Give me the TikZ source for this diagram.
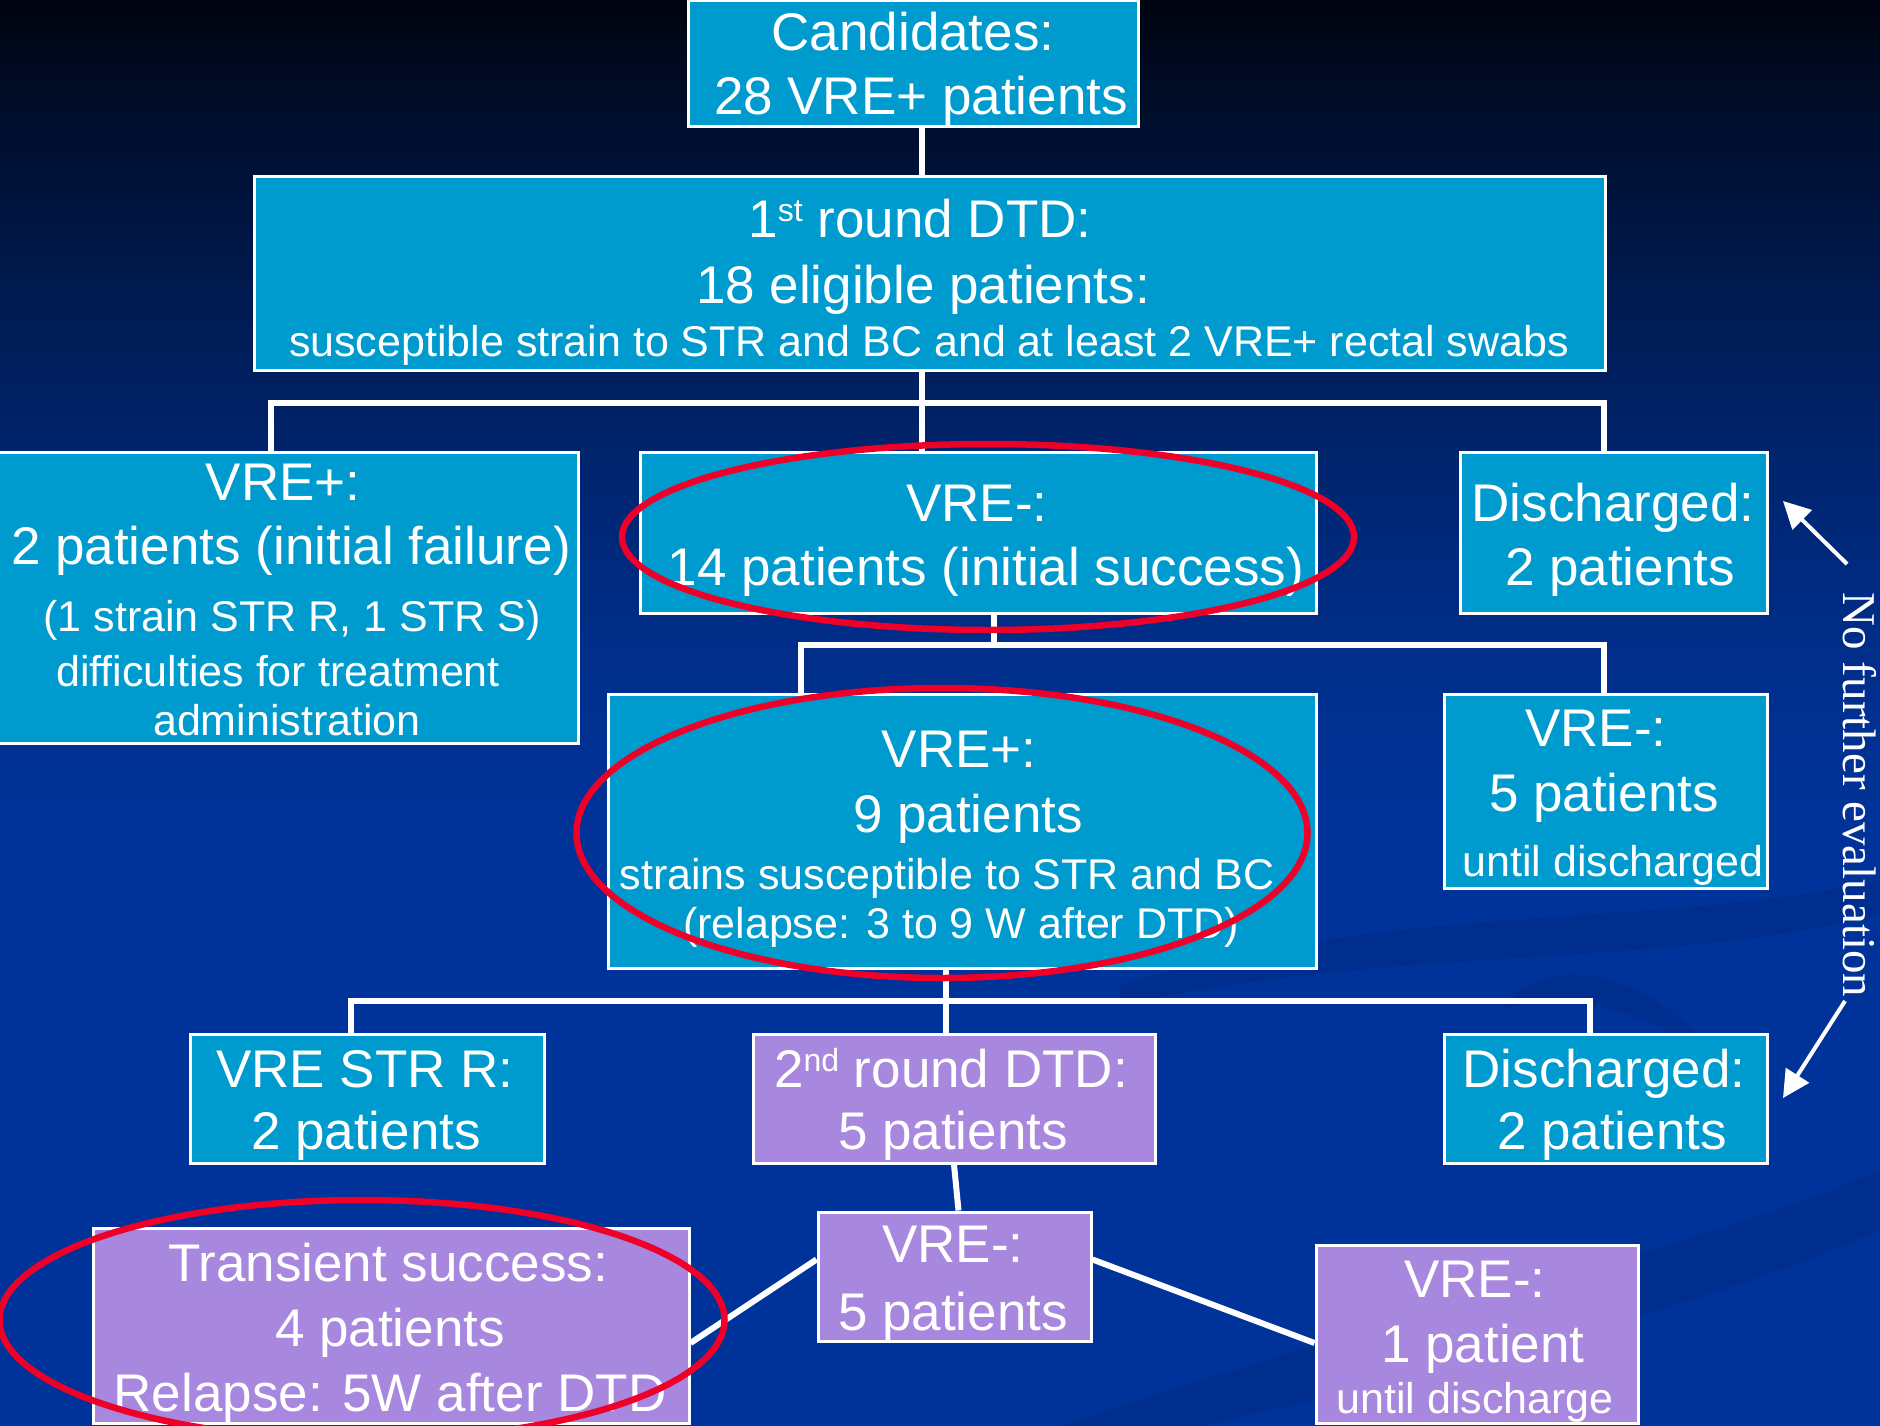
\documentclass[tikz,border=0pt]{standalone}
\usepackage{fontspec}
\setmainfont{Liberation Sans}
\newfontfamily\serifnfe{Liberation Serif}
\usetikzlibrary{shapes.geometric,arrows.meta,calc}
\definecolor{boxcyan}{RGB}{0,155,206}
\definecolor{boxpurple}{RGB}{168,136,222}
\definecolor{ringred}{RGB}{238,0,40}
\definecolor{bgtop}{RGB}{0,4,16}
\definecolor{bgbot}{RGB}{0,51,153}
\definecolor{swirlc}{RGB}{0,38,125}
\newcommand\bigf{\fontsize{53}{60}\selectfont}
\newcommand\medf{\fontsize{43}{50}\selectfont}
\newcommand\supf[1]{\raisebox{16pt}{\fontsize{32}{32}\selectfont #1}}
\begin{document}
\begin{tikzpicture}[x=1pt,y=-1pt,
  box/.style={draw=white,line width=3pt,fill=boxcyan,inner sep=0pt,rectangle},
  pbox/.style={box,fill=boxpurple},
  big/.style={font=\bigf,text=white,anchor=base,inner sep=0pt},
  med/.style={font=\medf,text=white,anchor=base,inner sep=0pt},
  conn/.style={draw=white,line width=6pt},
  slant/.style={draw=white,line width=6pt},
  ring/.style={draw=ringred,line width=6.5pt,ellipse,fill=none,inner sep=0pt},
  note/.style={draw=white,line width=4pt,-{Triangle[length=27pt,width=27pt]}}]
\useasboundingbox (0,0) rectangle (1880,1426);
% background gradient (dark top to royal blue)
\fill[bgbot] (0,0) rectangle (1880,1426);
\foreach \i in {0,...,85} {
  \pgfmathsetmacro\yy{\i*10}
  \pgfmathsetmacro\pp{100*(max(0.0001,1-(\yy+5)/860))^1.5}
  \fill[bgtop!\pp!bgbot] (0,\yy) rectangle (1880,\yy+11);
}
% faint background swirls
\begin{scope}[opacity=0.35]
\fill[swirlc] (1120,985) .. controls (1400,900) and (1650,930) .. (1880,880) -- (1880,915) .. controls (1650,970) and (1400,945) .. (1120,1005) -- cycle;
\fill[swirlc] (1060,1426) .. controls (1400,1310) and (1700,1250) .. (1880,1170) -- (1880,1230) .. controls (1700,1310) and (1450,1370) .. (1200,1426) -- cycle;
\fill[swirlc] (1500,1010) .. controls (1560,930) and (1700,1000) .. (1720,1080) .. controls (1700,1040) and (1600,980) .. cycle;
\end{scope}

% boxes
\node[box,minimum width=450pt,minimum height=126pt] (cand) at (913,64) {};
\node[box,minimum width=1351pt,minimum height=193pt] (dtd1) at (929.5,273.5) {};
\node[box,minimum width=586pt,minimum height=291pt] (vrep1) at (285,597.5) {};
\node[box,minimum width=676pt,minimum height=161pt] (vrem1) at (978,532.5) {};
\node[box,minimum width=307pt,minimum height=161pt] (disc1) at (1613.5,532.5) {};
\node[box,minimum width=708pt,minimum height=274pt] (vrep9) at (962,831) {};
\node[box,minimum width=323pt,minimum height=194pt] (vrem5) at (1605.5,791) {};
\node[box,minimum width=354pt,minimum height=129pt] (strR) at (367,1098.5) {};
\node[pbox,minimum width=402pt,minimum height=129pt] (rnd2) at (954,1098.5) {};
\node[box,minimum width=323pt,minimum height=129pt] (disc2) at (1605.5,1098.5) {};
\node[pbox,minimum width=273pt,minimum height=129pt] (vrem5p) at (954.5,1276.5) {};
\node[pbox,minimum width=596pt,minimum height=195pt] (trans) at (391,1325.5) {};
\node[pbox,minimum width=322pt,minimum height=178pt] (vrem1p) at (1477,1334) {};

% junction coordinates
\coordinate (j1) at (922,403);
\coordinate (b1L) at (271,403);
\coordinate (b1R) at (1604,403);
\coordinate (j2) at (994,645);
\coordinate (b2L) at (801,645);
\coordinate (b2R) at (1604,645);
\coordinate (j3) at (946,1001);
\coordinate (b3L) at (351,1001);
\coordinate (b3R) at (1590,1001);

% connectors
\draw[conn] (cand.south -| j1) -- (dtd1.north -| j1);
\draw[conn] (dtd1.south -| j1) -- (vrem1.north -| j1);
\draw[conn,line join=miter] (vrep1.north -| b1L) -- (b1L) -- (b1R) -- (disc1.north -| b1R);
\draw[conn] (vrem1.south -| j2) -- (j2);
\draw[conn,line join=miter] (vrep9.north -| b2L) -- (b2L) -- (b2R) -- (vrem5.north -| b2R);
\draw[conn] (vrep9.south -| j3) -- (rnd2.north -| j3);
\draw[conn,line join=miter] (strR.north -| b3L) -- (b3L) -- (b3R) -- (disc2.north -| b3R);
\draw[slant] (rnd2.south) -- ($(vrem5p.north)+(4,0)$);
\draw[slant] ($(vrem5p.west)+(0,-17)$) -- ($(trans.east)+(0,17.5)$);
\draw[slant] ($(vrem5p.east)+(0,-17)$) -- ($(vrem1p.west)+(0,9)$);

% texts
\node[big] (t1a) at (913,51) {Candidates:};
\node[big] (t1b) at (921,115) {28 VRE+ patients};
\node[big] (t2a) at (920,237) {1\supf{st} round DTD:};
\node[big] (t2b) at (923,303) {18 eligible patients:};
\node[med] (t2c) at (929,356) {susceptible strain to STR and BC and at least 2 VRE+ rectal swabs};
\node[big] (t3a) at (283,500) {VRE+:};
\node[big] (t3b) at (291,564) {2 patients (initial failure)};
\node[med] (t3c) at (292,631) {(1 strain STR R, 1 STR S)};
\node[med] (t3d) at (278,686) {difficulties for treatment};
\node[med] (t3e) at (287,735) {administration};
\node[big] (t4a) at (977,521) {VRE-:};
\node[big] (t4b) at (986,585) {14 patients (initial success)};
\node[big] (t5a) at (1613,521) {Discharged:};
\node[big] (t5b) at (1620,585) {2 patients};
\node[big] (t6a) at (959,767) {VRE+:};
\node[big] (t6b) at (968,832) {9 patients};
\node[med] (t6c) at (947,889) {strains susceptible to STR and BC};
\node[med] (t6d) at (961,938) {(relapse: 3 to 9 W after DTD)};
\node[big] (t7a) at (1596,746) {VRE-:};
\node[big] (t7b) at (1604,811) {5 patients};
\node[med] (t7c) at (1613,876) {until discharged};
\node[big] (t8a) at (365,1087) {VRE STR R:};
\node[big] (t8b) at (366,1149) {2 patients};
\node[big] (t9a) at (951,1087) {2\supf{nd} round DTD:};
\node[big] (t9b) at (953,1149) {5 patients};
\node[big] (t10a) at (1604,1087) {Discharged:};
\node[big] (t10b) at (1612,1149) {2 patients};
\node[big] (t11a) at (953,1262) {VRE-:};
\node[big] (t11b) at (953,1330) {5 patients};
\node[big] (t12a) at (388,1281) {Transient success:};
\node[big] (t12b) at (390,1346) {4 patients};
\node[big] (t12c) at (390,1411) {Relapse: 5W after DTD};
\node[big] (t13a) at (1475,1297) {VRE-:};
\node[big] (t13b) at (1483,1362) {1 patient};
\node[med] (t13c) at (1475,1413) {until discharge};

% red rings
\node[ring,minimum width=732pt,minimum height=186pt] (r1) at (988,537) {};
\node[ring,minimum width=731pt,minimum height=290pt] (r2) at (942,833) {};
\node[ring,minimum width=725pt,minimum height=240pt] (r3) at (362,1320) {};

% side note
\node[font=\serifnfe\fontsize{47}{50}\selectfont,text=white,rotate=-90,anchor=base,inner sep=0pt] (nfe) at (1843,795) {No further evaluation};
\coordinate (a1s) at (1847,564);
\coordinate (a1) at (1783,501);
\coordinate (a2s) at (1845,1001);
\coordinate (a2) at (1783,1098);
\draw[note] (a1s) -- (a1);
\draw[note] (a2s) -- (a2);
\end{tikzpicture}
\end{document}
